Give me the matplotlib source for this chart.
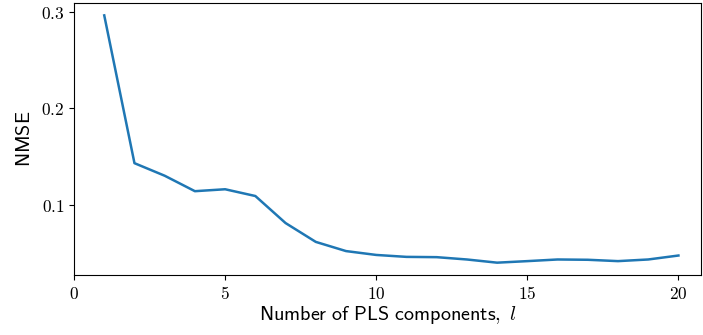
import matplotlib
matplotlib.use("Agg")
import matplotlib.pyplot as plt
from matplotlib.ticker import FuncFormatter

plt.rcParams['mathtext.fontset'] = 'cm'

components = list(range(1, 21))
nmse = [0.296, 0.143, 0.130, 0.114, 0.116, 0.109, 0.081, 0.0615, 0.052, 0.048,
        0.046, 0.0457, 0.0433, 0.040, 0.0416, 0.0433, 0.043, 0.0416, 0.0433, 0.0474]

fig = plt.figure(figsize=(7.03, 3.35), dpi=100)
ax = fig.add_axes([0.1053, 0.179, 0.892, 0.812])
ax.plot(components, nmse, color='#1f77b4', lw=1.8)
ax.set_xlim(0, 20.75)
ax.set_xticks([0, 5, 10, 15, 20])
ax.set_yticks([0.1, 0.2, 0.3])
ax.xaxis.set_major_formatter(FuncFormatter(lambda v, p: r"$%g$" % v))
ax.yaxis.set_major_formatter(FuncFormatter(lambda v, p: r"$%.1f$" % v))
ax.tick_params(labelsize=12.5)
ax.set_xlabel(r"$\mathsf{Number\ of\ PLS\ components,}\ l$", fontsize=14.5, labelpad=1)
ax.set_ylabel(r"$\mathsf{NMSE}$", fontsize=14.5, labelpad=5)
fig.savefig("out.png", dpi=100)
